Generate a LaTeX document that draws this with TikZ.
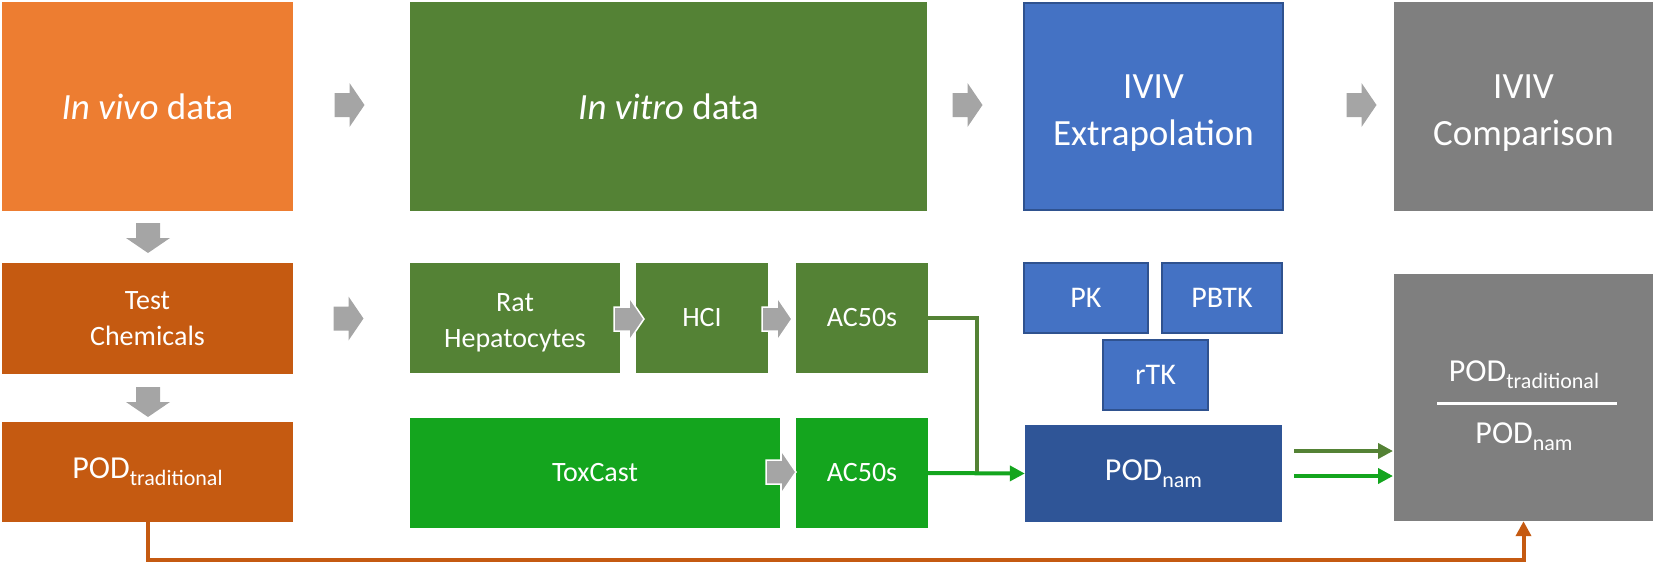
\documentclass[tikz,border=0pt]{standalone}
\usepackage{fontspec}
\setmainfont{Carlito}
\usetikzlibrary{arrows.meta}
\definecolor{vivoorange}{HTML}{ED7D31}
\definecolor{darkorange}{HTML}{C55A11}
\definecolor{vitrogreen}{HTML}{548235}
\definecolor{toxgreen}{HTML}{14A51E}
\definecolor{ivivblue}{HTML}{4472C4}
\definecolor{blueedge}{HTML}{2F528F}
\definecolor{namblue}{HTML}{2F5597}
\definecolor{compgray}{HTML}{7F7F7F}
\definecolor{arrowgray}{HTML}{A5A5A5}
\newcommand{\podsub}[1]{POD\raisebox{-7pt}{\fontsize{22}{22}\selectfont #1}}

\begin{document}
\begin{tikzpicture}[x=1pt,y=-1pt,
    box/.style={rectangle,inner sep=0pt,text=white,align=center},
    big/.style={font=\fontsize{37}{47}\selectfont},
    small/.style={font=\fontsize{28}{36}\selectfont},
    tk/.style={box,fill=ivivblue,draw=blueedge,line width=2pt,minimum height=70pt,font=\fontsize{30}{36}\selectfont},
    link/.style={line width=4pt,-{Triangle[length=15pt,width=15pt]}},
    blockarrow/.pic={\path[fill=arrowgray,pic actions] (-15,-12) -- (0,-12) -- (0,-22) -- (15,0) -- (0,22) -- (0,12) -- (-15,12) -- cycle;}]
    \useasboundingbox (0,0) rectangle (1654,563);
    % top row
    \node (vivo) at (147.5,106.5) [box,big,fill=vivoorange,minimum width=291pt,minimum height=209pt] {\textit{In vivo} data};
    \node (vitro) at (668.5,106.5) [box,big,fill=vitrogreen,minimum width=517pt,minimum height=209pt] {\textit{In vitro} data};
    \node (extrap) at (1153.5,106) [box,big,fill=ivivblue,draw=blueedge,line width=2pt,minimum width=259pt,minimum height=207pt] {\rule{0pt}{37pt}IVIV\\Extrapolation};
    \node (comp) at (1523.5,106.5) [box,big,fill=compgray,minimum width=259pt,minimum height=209pt] {\rule{0pt}{37pt}IVIV\\Comparison};
    \pic at (349.5,105) {blockarrow};
    \pic at (967.5,105) {blockarrow};
    \pic at (1361.5,105) {blockarrow};
    % in vivo column
    \pic[rotate=-90] at (148,238) {blockarrow};
    \node (test) at (147.5,318.5) [box,small,fill=darkorange,minimum width=291pt,minimum height=111pt] {Test\\Chemicals};
    \pic[rotate=-90] at (148,402) {blockarrow};
    \node (podtrad) at (147.5,472) [box,fill=darkorange,minimum width=291pt,minimum height=100pt,font=\fontsize{32}{38}\selectfont] {\podsub{traditional}};
    \pic at (348.5,318.5) {blockarrow};
    % in vitro assays
    \node (rat) at (515,318) [box,small,fill=vitrogreen,minimum width=210pt,minimum height=110pt] {\rule{0pt}{27pt}Rat\\Hepatocytes};
    \node (hci) at (702,318) [box,small,fill=vitrogreen,minimum width=132pt,minimum height=110pt] {HCI};
    \node (acfifty) at (862,318) [box,small,fill=vitrogreen,minimum width=132pt,minimum height=110pt] {AC50s};
    \node (toxcast) at (595,473) [box,small,fill=toxgreen,minimum width=370pt,minimum height=110pt] {ToxCast};
    \node (acfiftytox) at (862,473) [box,small,fill=toxgreen,minimum width=132pt,minimum height=110pt] {AC50s};
    \pic[draw=white,line width=1.5pt] at (629,319) {blockarrow};
    \pic[draw=white,line width=1.5pt] at (777,319) {blockarrow};
    \pic[draw=white,line width=1.5pt] at (781,472) {blockarrow};
    % kinetics
    \node (pk) at (1086,298) [tk,minimum width=124pt] {PK};
    \node (pbtk) at (1222,298) [tk,minimum width=120pt] {PBTK};
    \node (rtk) at (1155.5,375) [tk,minimum width=105pt] {rTK};
    \node (podnam) at (1153.5,473.5) [box,fill=namblue,minimum width=257pt,minimum height=97pt,font=\fontsize{32}{38}\selectfont] {\podsub{nam}};
    % comparison
    \node (ratio) at (1523.5,397.5) [box,fill=compgray,minimum width=259pt,minimum height=247pt] {};
    \node (ratiotop) at (1524,375) [box,font=\fontsize{32}{38}\selectfont] {\podsub{traditional}};
    \node (ratiobot) at (1524,437) [box,font=\fontsize{32}{38}\selectfont] {\podsub{nam}};
    \draw[white,line width=3pt] (1437,403) -- (1617,403);
    % connectors
    \coordinate (join) at (977,473);
    \draw[vitrogreen,line width=4pt] (acfifty.east) -| (join);
    \draw[toxgreen,link] (acfiftytox.east) -- (podnam.west);
    \coordinate (vitroin) at (1393,451);
    \coordinate (toxin) at (1393,476);
    \draw[vitrogreen,link] (vitroin -| podnam.east) ++(12,0) -- (vitroin);
    \draw[toxgreen,link] (toxin -| podnam.east) ++(12,0) -- (toxin);
    \draw[darkorange,link] (podtrad.south) -- ++(0,38) -| (ratio.south);
\end{tikzpicture}
\end{document}
